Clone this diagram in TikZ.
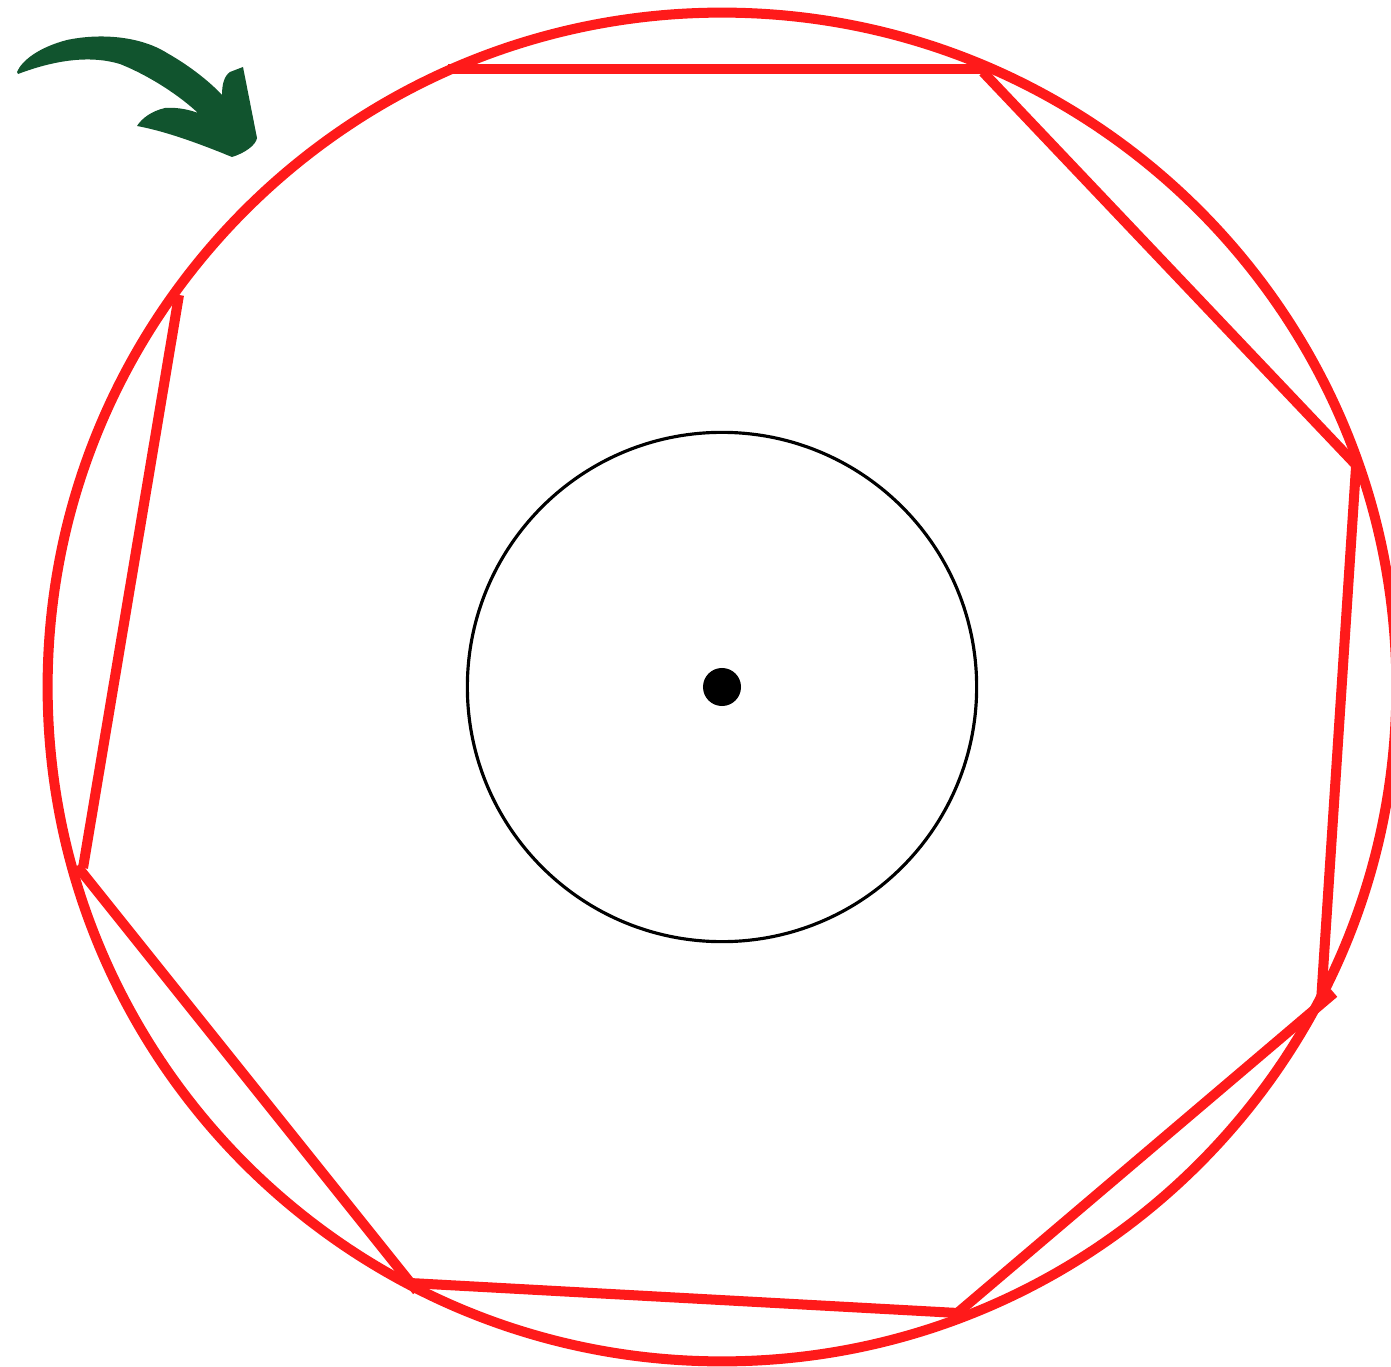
\documentclass[tikz,border=0pt]{standalone}
\begin{document}
\begin{tikzpicture}[x=0.01cm,y=-0.01cm,
  redline/.style={draw={rgb,255:red,255;green,26;blue,26},line width=2.85pt,line cap=butt},
  arrowfill/.style={fill={rgb,255:red,17;green,84;blue,46},draw=none}]
\useasboundingbox (0,0) rectangle (1391,1367);
\fill[white] (0,0) rectangle (1391,1367);
% big red circle
\coordinate (c) at (722,687);
\draw[redline] (c) circle [radius=6.74cm];
% inner circle and center dot
\draw[black,line width=0.9pt] (c) circle [radius=2.545cm];
\fill[black] (c) circle [radius=0.19cm];
% polygon segments
\draw[redline] (448,69) -- (986,69);
\draw[redline] (983,72) -- (1358,467);
\draw[redline] (1356,467) -- (1321,1002);
\draw[redline] (1334,993) -- (955,1315);
\draw[redline] (958,1313) -- (410,1283);
\draw[redline] (417,1291) -- (77,866);
\draw[redline] (83,868) -- (179,295);
% green arrow
\fill[arrowfill] (17,72)
  .. controls (22,60) and (40,47) .. (67,40)
  .. controls (100,33) and (140,36) .. (167,53)
  .. controls (190,66) and (210,82) .. (222,95)
  .. controls (222,85) and (224,76) .. (230,72)
  -- (243,67)
  -- (257,138)
  .. controls (256,145) and (245,153) .. (232,157)
  .. controls (210,148) and (170,132) .. (137,126)
  .. controls (142,118) and (152,111) .. (165,108)
  .. controls (178,107) and (190,110) .. (198,113)
  .. controls (180,96) and (150,76) .. (120,64)
  .. controls (90,55) and (55,60) .. (18,74)
  -- cycle;
\end{tikzpicture}
\end{document}
